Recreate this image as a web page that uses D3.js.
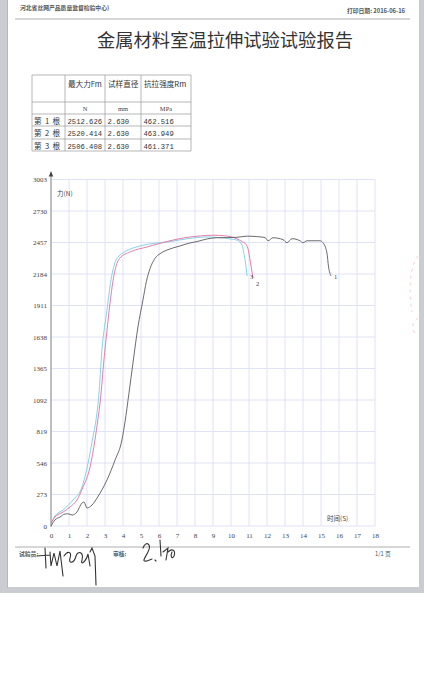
<!DOCTYPE html>
<html><head><meta charset="utf-8">
<script src="https://cdn.jsdelivr.net/npm/d3@7"></script>
<style>
html,body{margin:0;padding:0;background:#fff;}
svg{display:block;}
</style></head>
<body>
<svg id="c" width="424" height="700"></svg>
<script>
// ---------- data ----------
const headerLeft = "河北省丝网产品质量监督检验中心)";
const headerRight = "打印日期: 2016-06-16";
const title = "金属材料室温拉伸试验试验报告";

const colHeaders = ["最大力Fm", "试样直径", "抗拉强度Rm"];
const colUnits = ["N", "mm", "MPa"];
const rowLabels = ["第 1 根", "第 2 根", "第 3 根"];
const maxForce = ["2512.626", "2520.414", "2506.408"];
const diameter = ["2.630", "2.630", "2.630"];
const strength = ["462.516", "463.949", "461.371"];

const yTicks = [0, 273, 546, 819, 1092, 1365, 1638, 1911, 2184, 2457, 2730, 3003];
const xTicks = [0,1,2,3,4,5,6,7,8,9,10,11,12,13,14,15,16,17,18];
const yTitle = "力(N)";
const xTitle = "时间(S)";

// specimen 1 (dark)
const curve1 = [[0,0],[0.22,52],[0.5,78],[0.78,104],[0.94,106],[1.17,95],[1.44,121],[1.72,199],[1.83,208],
 [2.0,156],[2.28,182],[2.56,243],[3.11,399],[3.56,572],[3.94,745],[4.11,900],[4.33,1150],[4.56,1420],
 [4.83,1725],[5.11,1960],[5.3,2120],[5.5,2230],[5.78,2320],[6.06,2360],[6.5,2395],[7.17,2427],[7.72,2453],
 [8.11,2465],[8.67,2488],[9.2,2498],[9.8,2500],[10.33,2502],[10.9,2512],[11.44,2508],[11.89,2500],
 [12.06,2472],[12.33,2498],[12.89,2482],[13.11,2455],[13.39,2490],[13.83,2472],[14.0,2455],[14.22,2472],
 [14.94,2472],[15.11,2455],[15.33,2366],[15.42,2245],[15.56,2167]];
// specimen 2 (pink)
const curve2 = [[0,26],[0.22,78],[0.67,121],[1.06,165],[1.44,225],[1.78,338],[2.17,511],[2.44,745],[2.6,919],
 [2.75,1100],[2.94,1439],[3.1,1680],[3.28,1933],[3.44,2120],[3.56,2219],[3.83,2323],[4.39,2375],[5.33,2418],
 [6.61,2472],[7.5,2500],[8.3,2514],[9.0,2520],[9.6,2516],[9.94,2508],[10.33,2490],[10.61,2465],[10.78,2450],
 [10.94,2405],[11.08,2285],[11.22,2149]];
// specimen 3 (cyan)
const curve3 = [[0,17],[0.22,87],[0.67,139],[1.22,225],[1.72,338],[2.06,546],[2.33,771],[2.5,919],[2.65,1118],
 [2.83,1525],[3.11,1872],[3.3,2100],[3.44,2219],[3.72,2331],[4.94,2427],[6.61,2465],[7.6,2490],[8.67,2505],
 [9.3,2500],[9.94,2488],[10.33,2478],[10.61,2435],[10.72,2360],[10.8,2290],[10.89,2167]];

const curves = [
  {data: curve1, color: "#5a5a5e", label: "1"},
  {data: curve2, color: "#e0709c", label: "2"},
  {data: curve3, color: "#7ccbe8", label: "3"}
];

// ---------- drawing ----------
const svg = d3.select("#c");
const CJK = "'Noto Sans CJK SC', 'Noto Sans', sans-serif";
const SERIF = "'Liberation Serif', 'DejaVu Serif', serif";
const MONO = "'Liberation Mono', 'DejaVu Sans Mono', monospace";

// page / border
svg.append("rect").attr("x",0).attr("y",0).attr("width",424).attr("height",593).attr("fill","#c9cdd2");
svg.append("rect").attr("x",8).attr("y",0).attr("width",411).attr("height",587).attr("fill","#ffffff");
svg.append("rect").attr("x",7).attr("y",0).attr("width",1).attr("height",588).attr("fill","#b5b9be");

// header
svg.append("text").attr("x",20).attr("y",10).attr("font-family",CJK).attr("font-size",5.8)
  .attr("font-weight","bold").attr("fill","#555").text(headerLeft);
svg.append("text").attr("x",405).attr("y",13).attr("text-anchor","end").attr("font-family",CJK).attr("font-size",5.8)
  .attr("font-weight","bold").attr("fill","#555").text(headerRight);
svg.append("line").attr("x1",15).attr("x2",410).attr("y1",19).attr("y2",19).attr("stroke","#999").attr("stroke-width",0.8);

svg.append("text").attr("x",225).attr("y",47).attr("text-anchor","middle").attr("font-family",CJK)
  .attr("font-size",18.3).attr("fill","#333").text(title);

// table
const tX = [32, 65, 105, 141, 191];
const tY = [75, 102, 114, 126, 139, 151];
const tg = svg.append("g").attr("stroke","#9a9a9a").attr("stroke-width",0.7);
tY.forEach(y => tg.append("line").attr("x1",tX[0]).attr("x2",tX[4]).attr("y1",y).attr("y2",y));
tX.forEach(x => tg.append("line").attr("x1",x).attr("x2",x).attr("y1",tY[0]).attr("y2",tY[5]));
colHeaders.forEach((h,i) => svg.append("text").attr("x",tX[i+1]+3).attr("y",87).attr("font-family",CJK)
  .attr("font-size",7.6).attr("fill","#333").text(h));
colUnits.forEach((u,i) => svg.append("text").attr("x",(tX[i+1]+tX[i+2])/2).attr("y",111).attr("text-anchor","middle")
  .attr("font-family",SERIF).attr("font-size",6.5).attr("fill","#444").text(u));
rowLabels.forEach((r,i) => {
  const yy = tY[i+2] + 9.5;
  svg.append("text").attr("x",34).attr("y",yy).attr("font-family",CJK).attr("font-size",7.6).attr("fill","#333")
     .attr("xml:space","preserve").text(r.replace(/ /g,"  "));
  [maxForce[i], diameter[i], strength[i]].forEach((v,j) => svg.append("text").attr("x",tX[j+1]+2.5).attr("y",yy)
     .attr("font-family",MONO).attr("font-size",7.2).attr("fill","#333").text(v));
});

// chart scales
const x = d3.scaleLinear().domain([0,18]).range([51,375]);
const y = d3.scaleLinear().domain([0,3003]).range([526,179.5]);

// grid
const grid = svg.append("g").attr("stroke","#dcdff4").attr("stroke-width",0.9);
xTicks.forEach(t => grid.append("line").attr("x1",x(t)).attr("x2",x(t)).attr("y1",y(0)).attr("y2",y(3003)));
yTicks.forEach(t => grid.append("line").attr("x1",x(0)).attr("x2",x(18)).attr("y1",y(t)).attr("y2",y(t)));

// axes
const yAxis = d3.axisLeft(y).tickValues(yTicks).tickFormat(d3.format("d")).tickSize(0).tickPadding(4);
const yg = svg.append("g").attr("transform",`translate(${x(0)},0)`).call(yAxis);
yg.select(".domain").remove();
yg.selectAll("text").attr("font-family",SERIF).attr("font-size",7).attr("fill","#444");
const xAxis = d3.axisBottom(x).tickValues(xTicks).tickFormat(d3.format("d")).tickSize(0).tickPadding(7);
const xg = svg.append("g").attr("transform",`translate(0,${y(0)})`).call(xAxis);
xg.select(".domain").remove();
xg.selectAll("text").attr("font-family",SERIF).attr("font-size",7).attr("fill","#444");

svg.append("line").attr("x1",x(0)).attr("x2",x(0)).attr("y1",y(0)+1).attr("y2",175).attr("stroke","#8a8a8a").attr("stroke-width",1);
svg.append("path").attr("d",`M${x(0)},171 L${x(0)-2.2},176.5 L${x(0)+2.2},176.5 Z`).attr("fill","#444");
svg.append("text").attr("x",57).attr("y",196).attr("font-family",CJK).attr("font-size",6.5).attr("fill","#444").text(yTitle);
svg.append("text").attr("x",327).attr("y",521).attr("font-family",CJK).attr("font-size",6.5).attr("fill","#444").text(xTitle);

// curves
const line = d3.line().x(d => x(d[0])).y(d => y(d[1])).curve(d3.curveMonotoneX);
curves.slice().reverse().forEach(c => {
  svg.append("path").attr("d",line(c.data)).attr("fill","none").attr("stroke",c.color).attr("stroke-width",0.9);
});
// curve end labels
const lblOff = {"1":[3,3],"2":[3,8],"3":[3,3]};
curves.forEach(c => {
  const last = c.data[c.data.length-1];
  svg.append("text").attr("x",x(last[0])+lblOff[c.label][0]).attr("y",y(last[1])+lblOff[c.label][1])
    .attr("font-family",SERIF).attr("font-size",6.5).attr("fill","#444").text(c.label);
});

// footer
svg.append("line").attr("x1",15).attr("x2",410).attr("y1",547).attr("y2",547).attr("stroke","#999").attr("stroke-width",0.8);
svg.append("text").attr("x",19).attr("y",556).attr("font-family",CJK).attr("font-size",5.8).attr("font-weight","bold").attr("fill","#555").text("试验员:");
svg.append("text").attr("x",113).attr("y",556).attr("font-family",CJK).attr("font-size",5.8).attr("font-weight","bold").attr("fill","#555").text("审核:");
svg.append("text").attr("x",375).attr("y",556).attr("font-family",CJK).attr("font-size",5.8).attr("fill","#555").text("1/1 页");

// handwritten signatures (decorative strokes)
const sig = svg.append("g").attr("fill","none").attr("stroke","#333").attr("stroke-width",1.1).attr("stroke-linecap","round");
sig.append("path").attr("d","M37,556 L50,555 M45,548 L46,568 M50,552 L51,566 L54,553 L57,566 L60,551 L63,576 M64,556 C68,550 72,552 70,558 C68,564 74,564 76,556 C78,550 84,552 82,560 C80,566 86,562 88,554 L90,566 M90,552 L92,548 L95,556 L96,585");
sig.append("path").attr("d","M143,548 C146,540 152,544 148,552 C145,558 141,562 147,561 L152,559 M155,560 L156,561 M160,540 L161,556 M163,552 L168,548 L166,560 M168,552 C172,548 176,550 174,556 C172,560 170,556 172,552");
// partial stamp at right edge
svg.append("path").attr("d","M418,256 C410,266 408,290 412,312 M418,318 C412,322 411,330 416,334").attr("fill","none")
  .attr("stroke","#f29a9a").attr("stroke-width",0.8).attr("stroke-dasharray","3 4").attr("opacity",0.6);
</script>
</body></html>
